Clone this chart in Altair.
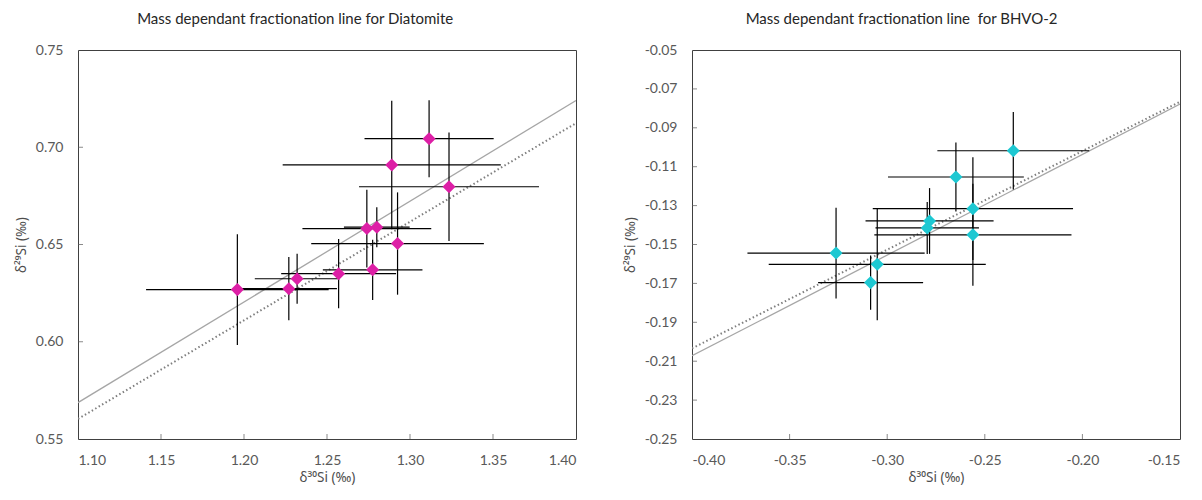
import altair as alt
import pandas as pd

# ---------------- Diatomite ----------------
d_x = [1.196, 1.227, 1.232, 1.257, 1.2775, 1.274, 1.280, 1.2925, 1.289, 1.3115, 1.3235]
d_y = [0.6268, 0.6273, 0.6324, 0.6350, 0.6370, 0.6582, 0.6589, 0.6505, 0.6909, 0.7044, 0.6797]
d_xerr = [0.055, 0.029, 0.0255, 0.0346, 0.030, 0.0388, 0.0198, 0.052, 0.0657, 0.0389, 0.0542]
d_yerr = [0.0285, 0.0163, 0.0128, 0.0178, 0.0155, 0.020, 0.0103, 0.0263, 0.033, 0.0198, 0.0279]
d_line_x = [1.10, 1.40]
d_solid_y = [0.5687, 0.7240]
d_dot_y = [0.5603, 0.7124]
d_xvals = [1.10, 1.15, 1.20, 1.25, 1.30, 1.35, 1.40]
d_yvals = [0.55, 0.60, 0.65, 0.70, 0.75]
d_xticks = [1.15, 1.20, 1.25, 1.30, 1.35]
d_yticks = [0.60, 0.65, 0.70]

# ---------------- BHVO-2 ----------------
b_x = [-0.2354, -0.2648, -0.2561, -0.2561, -0.2783, -0.2795, -0.3262, -0.3051, -0.3085]
b_y = [-0.1018, -0.1153, -0.1316, -0.1450, -0.1379, -0.1415, -0.1544, -0.1602, -0.1696]
b_xerr = [0.0389, 0.0348, 0.0513, 0.0505, 0.0328, 0.0265, 0.0454, 0.0556, 0.0269]
b_yerr = [0.0199, 0.0177, 0.0264, 0.0262, 0.0169, 0.0134, 0.0233, 0.0287, 0.0139]
b_line_x = [-0.40, -0.15]
b_solid_y = [-0.2072, -0.0778]
b_dot_y = [-0.2034, -0.0766]
b_xvals = [-0.40, -0.35, -0.30, -0.25, -0.20, -0.15]
b_yvals = [-0.05, -0.07, -0.09, -0.11, -0.13, -0.15, -0.17, -0.19, -0.21, -0.23, -0.25]
b_xticks = [-0.35, -0.30, -0.25, -0.20]
b_yticks = [-0.07, -0.09, -0.11, -0.13, -0.15, -0.17, -0.19, -0.21, -0.23]

FONT = "Lato"
TFONT = "Noto Sans"
XT = "δ³⁰Si (‰)"
YT = "δ²⁹Si (‰)"
LABEL_EXPR = "replace(format(datum.value, '.2f'), '\u2212', '-')"


def panel(xs, ys, xe, ye, lx, sy, dy, xvals, yvals, xticks, yticks, color, title, w, h):
    df = pd.DataFrame({"x": xs, "y": ys, "xe": xe, "ye": ye})
    df["xlo"] = df["x"] - df["xe"]
    df["xhi"] = df["x"] + df["xe"]
    df["ylo"] = df["y"] - df["ye"]
    df["yhi"] = df["y"] + df["ye"]
    ldf = pd.DataFrame({"lx": lx, "sy": sy, "dy": dy})

    xsc = alt.Scale(domain=[xvals[0], xvals[-1]], nice=False, zero=False)
    ysc = alt.Scale(domain=[min(yvals), max(yvals)], nice=False, zero=False)
    common = dict(ticks=False, grid=False, domain=False, labelExpr=LABEL_EXPR,
                  labelFont=FONT, labelFontSize=14, labelColor="#595959",
                  titleFont=TFONT, titleFontSize=13.5, titleColor="#4d4d4d",
                  titleFontWeight="normal")
    xax = alt.Axis(values=xvals, labelPadding=14, titlePadding=3, **common)
    yax = alt.Axis(values=yvals, labelPadding=15, titlePadding=7, **common)

    def X(f):
        return alt.X(f, type="quantitative", scale=xsc, axis=xax, title=XT)

    def Y(f):
        return alt.Y(f, type="quantitative", scale=ysc, axis=yax, title=YT)

    base = alt.Chart(df)
    solid = alt.Chart(ldf).mark_line(color="#A6A6A6", strokeWidth=1.3, clip=True).encode(
        x=X("lx"), y=Y("sy"))
    dotted = alt.Chart(ldf).mark_line(color="#7F7F7F", strokeWidth=2, strokeDash=[1.5, 2.5],
                                      clip=True).encode(x=X("lx"), y=Y("dy"))
    hbar = base.mark_rule(color="black", strokeWidth=1.2).encode(
        x=X("xlo"), x2="xhi", y=Y("y"))
    vbar = base.mark_rule(color="black", strokeWidth=1.2).encode(
        x=X("x"), y=Y("ylo"), y2="yhi")
    pts = base.mark_point(shape="diamond", filled=True, size=170, color=color,
                          opacity=1).encode(x=X("x"), y=Y("y"))
    xt = alt.Chart(pd.DataFrame({"t": xticks})).mark_tick(
        color="#595959", size=5, thickness=1).encode(x=X("t"), y=alt.value(h - 2.5))
    yt = alt.Chart(pd.DataFrame({"t": yticks})).mark_tick(
        color="#595959", size=5, thickness=1, orient="horizontal").encode(
        y=Y("t"), x=alt.value(2.5))

    return alt.layer(solid, dotted, hbar, vbar, pts, xt, yt).properties(
        width=w, height=h,
        title=alt.TitleParams(title, font=FONT, fontSize=15, fontWeight="normal",
                              color="#262626", anchor="middle", frame="bounds", offset=16),
    )


left = panel(d_x, d_y, d_xerr, d_yerr, d_line_x, d_solid_y, d_dot_y, d_xvals, d_yvals,
             d_xticks, d_yticks, "#DD1FA6", "Mass dependant fractionation line for Diatomite",
             498, 389)
right = panel(b_x, b_y, b_xerr, b_yerr, b_line_x, b_solid_y, b_dot_y, b_xvals, b_yvals,
              b_xticks, b_yticks, "#1DC8D2", "Mass dependant fractionation line\u00a0 for BHVO-2",
              488, 389)

chart = alt.hconcat(left, right, spacing=45).properties(
    background="white", padding={"left": 5, "top": 3, "right": 5, "bottom": 5}
).configure_view(stroke="#404040", strokeWidth=1)

chart.save("out.html", embed_options={"renderer": "svg", "actions": False})
